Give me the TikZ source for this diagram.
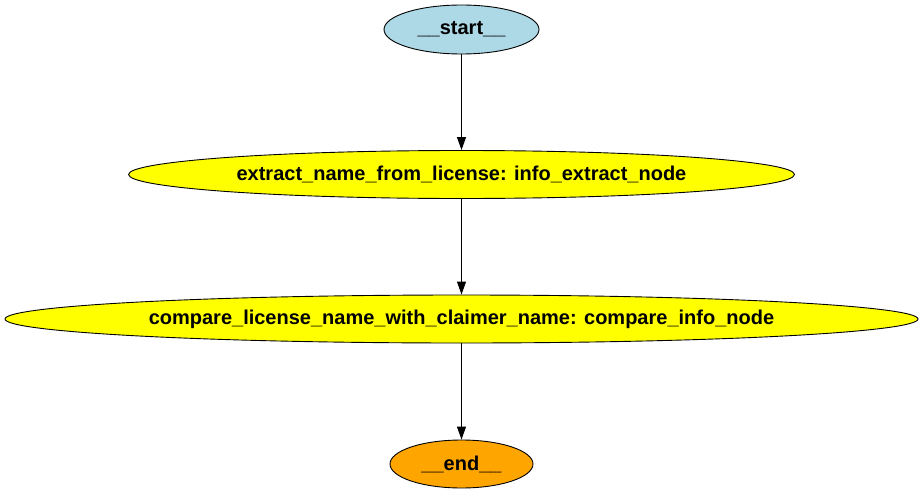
\documentclass[tikz,border=0pt]{standalone}
\usepackage{fontspec}
\setmainfont{Liberation Sans}
\usetikzlibrary{shapes.geometric,arrows.meta}
\definecolor{startblue}{HTML}{ADD8E6}
\definecolor{endorange}{HTML}{FFA500}
\definecolor{stepyellow}{HTML}{FFFF00}
\begin{document}
\begin{tikzpicture}[x=1pt,y=-1pt,
  gnode/.style={ellipse,draw=black,line width=0.9pt,inner sep=0pt,
    font=\fontsize{20}{23}\selectfont\bfseries},
  conn/.style={draw=black,line width=0.9pt,-{Triangle[length=13pt,width=9pt]}}]
\useasboundingbox (0,0) rectangle (923,495);
\node[gnode,fill=startblue,minimum width=155pt,minimum height=49pt] (start) at (461.5,29.5) {\_\_start\_\_};
\node[gnode,fill=stepyellow,minimum width=666pt,minimum height=48pt] (extract) at (461.5,174.5) {extract\_name\_from\_license: info\_extract\_node};
\node[gnode,fill=stepyellow,minimum width=913pt,minimum height=48pt] (compare) at (461.5,319) {compare\_license\_name\_with\_claimer\_name: compare\_info\_node};
\node[gnode,fill=endorange,minimum width=143pt,minimum height=48pt] (end) at (461.5,464) {\_\_end\_\_};
\draw[conn] (start) -- (extract);
\draw[conn] (extract) -- (compare);
\draw[conn] (compare) -- (end);
\end{tikzpicture}
\end{document}
